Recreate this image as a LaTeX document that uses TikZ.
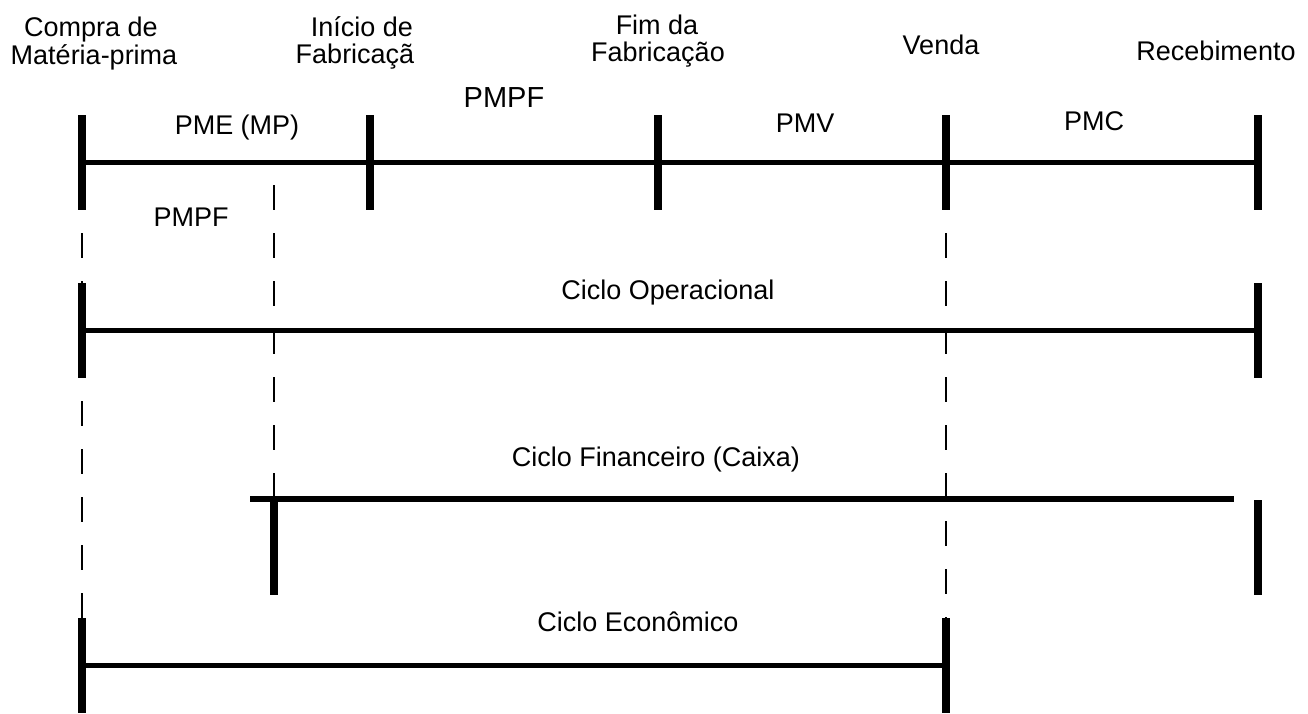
\documentclass[tikz,border=0pt]{standalone}
\usepackage{fontspec}
\setmainfont{Liberation Sans}
\usetikzlibrary{positioning}

\begin{document}
\begin{tikzpicture}[x=1pt,y=-1pt]

\tikzset{marco/.style = {fill,inner sep=0pt,minimum width=8pt,minimum height=95pt}}
\tikzset{linha/.style = {line width=5.5pt}}
\tikzset{guia/.style = {line width=1.8pt,dash pattern=on 25pt off 23pt,dash phase=25pt}}
\tikzset{rotulo/.style = {font=\fontsize{27}{31}\selectfont,anchor=base,inner sep=0pt}}

\useasboundingbox (0,0) rectangle (1308,713);

%marcos
\node[marco] (compra) at (82,162.5) {};
\node[marco] (inicio) at (370,162.5) {};
\node[marco] (fim) at (658,162.5) {};
\node[marco] (venda) at (946,162.5) {};
\node[marco] (receb) at (1258,162.5) {};
\node[marco] (opini) at (82,330.5) {};
\node[marco] (opfim) at (1258,330.5) {};
\node[marco] (finini) at (274,547) {};
\node[marco] (finfim) at (1258,547) {};
\node[marco] (ecoini) at (82,665.5) {};
\node[marco] (ecofim) at (946,665.5) {};
\coordinate (fina) at (250,499);
\coordinate (finb) at (1234,499);
\coordinate (pmpftopo) at (274,162);

%linhas
\draw[linha] (compra.center) -- (receb.center);
\draw[linha] (opini.center) -- (opfim.center);
\draw[linha] (fina) -- (finb);
\draw[linha] (ecoini) -- (ecofim);

%guias
\draw[guia] (compra.south) -- (opini.north);
\draw[guia] (opini.south) -- (ecoini.north);
\draw[guia] (pmpftopo) -- (finini.north);
\draw[guia] (venda.south) -- (ecofim.north);

%textos
\node[rotulo] (tcompra) at (91,36) {Compra de};
\node[rotulo] (tmateria) at (94,64) {Matéria-prima};
\node[rotulo] (tinicio) at (362,36) {Início de};
\node[rotulo] (tfabr) at (355,63) {Fabricaçã};
\node[rotulo] (tfim) at (657,34) {Fim da};
\node[rotulo] (tfabrf) at (658,61) {Fabricação};
\node[rotulo] (tvenda) at (941,54) {Venda};
\node[rotulo] (treceb) at (1216,60) {Recebimento};
\node[rotulo] (pme) at (237,134) {PME (MP)};
\node[rotulo,font=\fontsize{29}{34}\selectfont] (pmpf) at (504,107) {PMPF};
\node[rotulo] (pmv) at (805,132) {PMV};
\node[rotulo] (pmc) at (1094,130) {PMC};
\node[rotulo] (pmpfb) at (191,226) {PMPF};
\node[rotulo] (ciclop) at (668,299) {Ciclo Operacional};
\node[rotulo] (ciclfin) at (656,466) {Ciclo Financeiro (Caixa)};
\node[rotulo] (ciceco) at (638,631) {Ciclo Econômico};

\end{tikzpicture}
\end{document}
